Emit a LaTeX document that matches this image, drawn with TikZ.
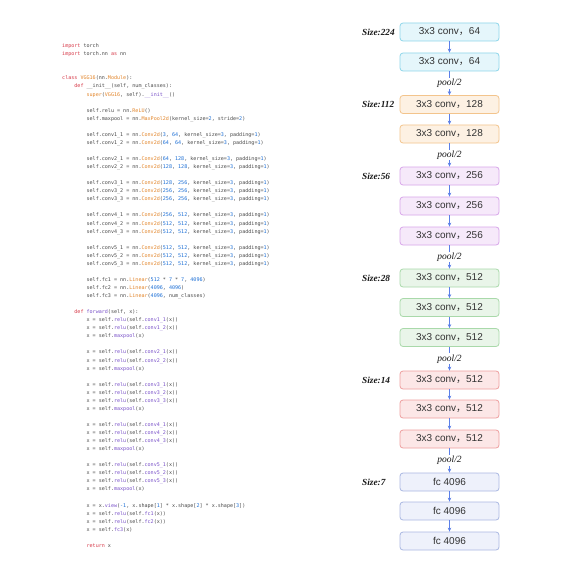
\documentclass[tikz,border=0pt]{standalone}
\usepackage{fontspec}
\setmainfont{Liberation Serif}
\newfontfamily\codefont[WordSpace={1,0,0}]{DejaVu Sans Mono}
\newfontfamily\boxfont{Liberation Sans}
\newfontfamily\cjkfont{Noto Sans CJK SC}
\usetikzlibrary{arrows.meta}
\definecolor{ckw}{HTML}{D73A49}
\definecolor{ccl}{HTML}{E3862B}
\definecolor{cnm}{HTML}{1C6FD6}
\definecolor{cfn}{HTML}{7A52C9}
\definecolor{ctx}{HTML}{4A4A4A}
\definecolor{c1f}{HTML}{E5F6FB}\definecolor{c1d}{HTML}{8ED6EA}
\definecolor{c2f}{HTML}{FDF1E3}\definecolor{c2d}{HTML}{F3C48C}
\definecolor{c3f}{HTML}{F6E9FA}\definecolor{c3d}{HTML}{D8A6EA}
\definecolor{c4f}{HTML}{E9F5E9}\definecolor{c4d}{HTML}{A9D9AA}
\definecolor{c5f}{HTML}{FCE7E7}\definecolor{c5d}{HTML}{EEA0A0}
\definecolor{c6f}{HTML}{EEF1FB}\definecolor{c6d}{HTML}{AAB8E2}
\definecolor{arrc}{HTML}{5B7FE8}
\newcommand\Ckw[1]{\textcolor{ckw}{#1}}
\newcommand\Ccl[1]{\textcolor{ccl}{#1}}
\newcommand\Cnm[1]{\textcolor{cnm}{#1}}
\newcommand\Cfn[1]{\textcolor{cfn}{#1}}
\newcommand\ind[1]{\hspace*{#1\fontcharwd\font`0}}
\newcommand\Cconv[3]{\ind{8}self.conv#1 = nn.\Ccl{Conv2d}(\Cnm{#2}, \Cnm{#3}, kernel\_size=\Cnm{3}, padding=\Cnm{1})}
\newcommand\Crelu[1]{\ind{8}x = self.\Cfn{relu}(self.\Cfn{#1}(x))}
\newcommand\Cpool{\ind{8}x = self.\Cfn{maxpool}(x)}
\newcommand\cv[1]{3x3 conv{\cjkfont ，}#1}
\begin{document}
\begin{tikzpicture}[x=1pt,y=-1pt,
  blk/.style={rounded corners=3pt, minimum width=99pt, minimum height=18pt, inner sep=0pt,
    font=\boxfont\fontsize{10}{12}\selectfont, text=black!80, line width=0.8pt},
  g1/.style={blk, fill=c1f, draw=c1d},
  g2/.style={blk, fill=c2f, draw=c2d},
  g3/.style={blk, fill=c3f, draw=c3d},
  g4/.style={blk, fill=c4f, draw=c4d},
  g5/.style={blk, fill=c5f, draw=c5d},
  g6/.style={blk, fill=c6f, draw=c6d},
  arr/.style={draw=arrc, line width=0.8pt, -{Stealth[length=4pt,width=3.5pt]}},
  sizel/.style={anchor=west, inner sep=0pt, text=black!90, font=\bfseries\itshape\fontsize{9.3}{11}\selectfont},
  poollbl/.style={fill=white, inner sep=1pt, text=black!90, font=\itshape\fontsize{9.5}{11}\selectfont}]
\fill[white] (0,0) rectangle (562,567);
\useasboundingbox (0,0) rectangle (562,567);

\node[anchor=base west, align=left, inner sep=0pt, text=ctx,
      font=\codefont\fontsize{5.07pt}{8.06pt}\selectfont] (code) at (62,547.4) {%
\Ckw{import} torch\\
\Ckw{import} torch.nn \Ckw{as} nn\\
~\\
~\\
\Ckw{class} \Ccl{VGG16}(nn.\Ccl{Module}):\\
\ind{4}\Ckw{def} \_\_init\_\_(self, num\_classes):\\
\ind{8}\Ccl{super}(\Ccl{VGG16}, self).\Cfn{\_\_init\_\_}()\\
~\\
\ind{8}self.relu = nn.\Ccl{ReLU}()\\
\ind{8}self.maxpool = nn.\Ccl{MaxPool2d}(kernel\_size=\Cnm{2}, stride=\Cnm{2})\\
~\\
\Cconv{1\_1}{3}{64}\\
\Cconv{1\_2}{64}{64}\\
~\\
\Cconv{2\_1}{64}{128}\\
\Cconv{2\_2}{128}{128}\\
~\\
\Cconv{3\_1}{128}{256}\\
\Cconv{3\_2}{256}{256}\\
\Cconv{3\_3}{256}{256}\\
~\\
\Cconv{4\_1}{256}{512}\\
\Cconv{4\_2}{512}{512}\\
\Cconv{4\_3}{512}{512}\\
~\\
\Cconv{5\_1}{512}{512}\\
\Cconv{5\_2}{512}{512}\\
\Cconv{5\_3}{512}{512}\\
~\\
\ind{8}self.fc1 = nn.\Ccl{Linear}(\Cnm{512} * \Cnm{7} * \Cnm{7}, \Cnm{4096})\\
\ind{8}self.fc2 = nn.\Ccl{Linear}(\Cnm{4096}, \Cnm{4096})\\
\ind{8}self.fc3 = nn.\Ccl{Linear}(\Cnm{4096}, num\_classes)\\
~\\
\ind{4}\Ckw{def} \Cfn{forward}(self, x):\\
\Crelu{conv1\_1}\\
\Crelu{conv1\_2}\\
\Cpool\\
~\\
\Crelu{conv2\_1}\\
\Crelu{conv2\_2}\\
\Cpool\\
~\\
\Crelu{conv3\_1}\\
\Crelu{conv3\_2}\\
\Crelu{conv3\_3}\\
\Cpool\\
~\\
\Crelu{conv4\_1}\\
\Crelu{conv4\_2}\\
\Crelu{conv4\_3}\\
\Cpool\\
~\\
\Crelu{conv5\_1}\\
\Crelu{conv5\_2}\\
\Crelu{conv5\_3}\\
\Cpool\\
~\\
\ind{8}x = x.\Cfn{view}(\Cnm{-1}, x.shape[\Cnm{1}] * x.shape[\Cnm{2}] * x.shape[\Cnm{3}])\\
\Crelu{fc1}\\
\Crelu{fc2}\\
\ind{8}x = self.\Cfn{fc3}(x)\\
~\\
\ind{8}\Ckw{return} x};

\node[g1] (b1)  at (449.5,32)    {\cv{64}};
\node[g1] (b2)  at (449.5,62)    {\cv{64}};
\node[g2] (b3)  at (449.5,104.5) {\cv{128}};
\node[g2] (b4)  at (449.5,134)   {\cv{128}};
\node[g3] (b5)  at (449.5,176)   {\cv{256}};
\node[g3] (b6)  at (449.5,206)   {\cv{256}};
\node[g3] (b7)  at (449.5,236)   {\cv{256}};
\node[g4] (b8)  at (449.5,278)   {\cv{512}};
\node[g4] (b9)  at (449.5,307.5) {\cv{512}};
\node[g4] (b10) at (449.5,337.5) {\cv{512}};
\node[g5] (b11) at (449.5,380)   {\cv{512}};
\node[g5] (b12) at (449.5,409)   {\cv{512}};
\node[g5] (b13) at (449.5,439)   {\cv{512}};
\node[g6] (b14) at (449.5,482)   {fc 4096};
\node[g6] (b15) at (449.5,511)   {fc 4096};
\node[g6] (b16) at (449.5,541)   {fc 4096};

\node[sizel] (s1) at (362,32)    {Size:224};
\node[sizel] (s2) at (362,104.5) {Size:112};
\node[sizel] (s3) at (362,176)   {Size:56};
\node[sizel] (s4) at (362,278)   {Size:28};
\node[sizel] (s5) at (362,380)   {Size:14};
\node[sizel] (s6) at (362,482)   {Size:7};

\draw[arr] (b1) -- (b2);
\draw[arr] (b2) -- node[poollbl] (p1) {pool/2} (b3);
\draw[arr] (b3) -- (b4);
\draw[arr] (b4) -- node[poollbl] (p2) {pool/2} (b5);
\draw[arr] (b5) -- (b6);
\draw[arr] (b6) -- (b7);
\draw[arr] (b7) -- node[poollbl] (p3) {pool/2} (b8);
\draw[arr] (b8) -- (b9);
\draw[arr] (b9) -- (b10);
\draw[arr] (b10) -- node[poollbl] (p4) {pool/2} (b11);
\draw[arr] (b11) -- (b12);
\draw[arr] (b12) -- (b13);
\draw[arr] (b13) -- node[poollbl] (p5) {pool/2} (b14);
\draw[arr] (b14) -- (b15);
\draw[arr] (b15) -- (b16);
\end{tikzpicture}
\end{document}
